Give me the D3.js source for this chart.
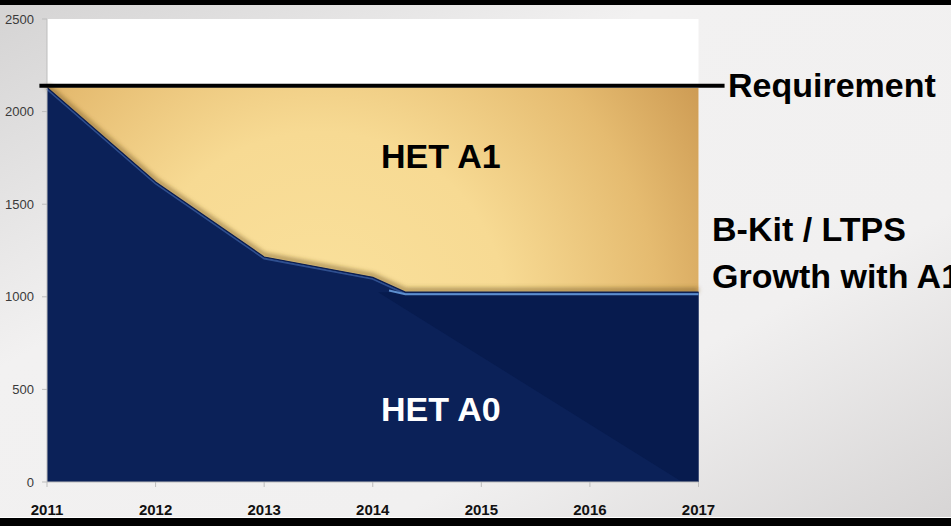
<!DOCTYPE html>
<html>
<head>
<meta charset="utf-8">
<script src="https://cdn.jsdelivr.net/npm/d3@7"></script>
<style>
  body { margin: 0; background: #000; }
  svg { display: block; }
</style>
</head>
<body>
<div id="chart"></div>
<script>
const width = 951;
const height = 526;

// data
const years = [2011, 2012, 2013, 2014, 2014.3, 2015, 2016, 2017];
const hetA0 = [2130, 1620, 1215, 1105, 1025, 1025, 1025, 1025];
const hetA1Top = [2132, 2132, 2132, 2131, 2131, 2130, 2129, 2128];
const requirement = 2140;
const reqSpan = [2010.93, 2017.24];
// darker fading legacy part of A0 (diagonal shade)
const legacyYears = [2014.05, 2016.85];
const legacyVals = [1025, 0];
const yTicks = [0, 500, 1000, 1500, 2000, 2500];
const xTicks = [2011, 2012, 2013, 2014, 2015, 2016, 2017];

const a0 = years.map((d, i) => ({year: d, v0: 0, v1: hetA0[i]}));
const a1 = years.map((d, i) => ({year: d, v0: hetA0[i], v1: hetA1Top[i]}));

const x = d3.scaleLinear().domain([2011, 2017]).range([47, 698.5]);
const y = d3.scaleLinear().domain([0, 2500]).range([482, 19]);

const svg = d3.select("#chart").append("svg").attr("width", width).attr("height", height);
const defs = svg.append("defs");

// background
const bg = defs.append("linearGradient").attr("id", "bg")
  .attr("x1", "0%").attr("y1", "0%").attr("x2", "100%").attr("y2", "100%");
bg.append("stop").attr("offset", "0%").attr("stop-color", "#d4d3d3");
bg.append("stop").attr("offset", "35%").attr("stop-color", "#f2f1f1");
bg.append("stop").attr("offset", "70%").attr("stop-color", "#f1f0f0");
bg.append("stop").attr("offset", "100%").attr("stop-color", "#d6d4d4");

const gold = defs.append("radialGradient").attr("id", "gold")
  .attr("gradientUnits", "userSpaceOnUse")
  .attr("cx", 320).attr("cy", 320).attr("r", 470);
gold.append("stop").attr("offset", "0%").attr("stop-color", "#fae19c");
gold.append("stop").attr("offset", "40%").attr("stop-color", "#f7da93");
gold.append("stop").attr("offset", "72%").attr("stop-color", "#e5bb70");
gold.append("stop").attr("offset", "100%").attr("stop-color", "#c8944d");

const shadow = defs.append("filter").attr("id", "shadow")
  .attr("x", "-5%").attr("y", "-5%").attr("width", "110%").attr("height", "110%");
shadow.append("feGaussianBlur").attr("stdDeviation", 2);

svg.append("rect").attr("width", width).attr("height", height).attr("fill", "url(#bg)");
svg.append("rect").attr("width", width).attr("height", 5).attr("fill", "#000");
svg.append("rect").attr("y", 517).attr("width", width).attr("height", 1).attr("fill", "#fff");
svg.append("rect").attr("y", 518).attr("width", width).attr("height", 8).attr("fill", "#000");

// plot area
svg.append("rect")
  .attr("x", x(2011)).attr("y", y(2500))
  .attr("width", x(2017) - x(2011)).attr("height", y(0) - y(2500))
  .attr("fill", "#fff");

const area = d3.area()
  .x(d => x(d.year))
  .y0(d => y(d.v0))
  .y1(d => y(d.v1));

svg.append("path").datum(a1).attr("d", area).attr("fill", "url(#gold)");

// soft shadow along top of A0
const topLine = d3.line().x(d => x(d.year)).y(d => y(d.v1));
svg.append("path").datum(a0).attr("d", topLine)
  .attr("fill", "none").attr("stroke", "#6b5020").attr("stroke-opacity", 0.5)
  .attr("stroke-width", 5).attr("filter", "url(#shadow)")
  .attr("transform", "translate(0,-2)");

svg.append("path").datum(a0).attr("d", area).attr("fill", "#0b2158");

// darker diagonal shade
const shade = [
  [legacyYears[0], hetA0[hetA0.length - 1]],
  [2017, hetA0[hetA0.length - 1]],
  [2017, 0],
  [legacyYears[1], legacyVals[1]]
];
svg.append("path")
  .attr("d", d3.line().x(d => x(d[0])).y(d => y(d[1]))(shade) + "Z")
  .attr("fill", "#071b4e");

svg.append("path").datum(a0).attr("d", topLine)
  .attr("fill", "none").attr("stroke", "#2f4f8f").attr("stroke-width", 2)
  .attr("transform", "translate(0,1.5)");
svg.append("path").datum(a0).attr("d", topLine)
  .attr("fill", "none").attr("stroke", "#0a1c4e").attr("stroke-width", 1.2);

// light blue highlight on the flat part
const flat = a0.filter(d => d.year >= 2014.3);
svg.append("path")
  .datum([{year: 2014.15, v1: 1045}].concat(flat))
  .attr("d", topLine)
  .attr("fill", "none").attr("stroke", "#5d8fcf").attr("stroke-width", 2)
  .attr("transform", "translate(0,2)");

// axes
const axisColor = "#bdbdbd";
svg.append("line")
  .attr("x1", x(2011)).attr("x2", x(2011))
  .attr("y1", y(2500)).attr("y2", y(0))
  .attr("stroke", axisColor);
svg.selectAll("line.ytick").data(yTicks).join("line")
  .attr("class", "ytick")
  .attr("x1", x(2011) - 5).attr("x2", x(2011))
  .attr("y1", d => y(d)).attr("y2", d => y(d))
  .attr("stroke", axisColor);
svg.selectAll("text.ylab").data(yTicks).join("text")
  .attr("class", "ylab")
  .attr("x", 34).attr("y", d => y(d)).attr("dy", "0.35em")
  .attr("text-anchor", "end")
  .style("font-family", "Liberation Sans, Arial, sans-serif")
  .style("font-size", "13px").style("fill", "#3a3a3a")
  .text(d => d);

svg.append("line")
  .attr("x1", x(2011)).attr("x2", x(2017))
  .attr("y1", y(0)).attr("y2", y(0))
  .attr("stroke", axisColor);
svg.selectAll("line.xtick").data(xTicks).join("line")
  .attr("class", "xtick")
  .attr("x1", d => x(d)).attr("x2", d => x(d))
  .attr("y1", y(0)).attr("y2", y(0) + 5)
  .attr("stroke", axisColor);
svg.selectAll("text.xlab").data(xTicks).join("text")
  .attr("class", "xlab")
  .attr("x", d => x(d)).attr("y", 515)
  .attr("text-anchor", "middle")
  .style("font-family", "Liberation Sans, Arial, sans-serif")
  .style("font-weight", "bold")
  .style("font-size", "15px").style("fill", "#111")
  .text(d => d);

// requirement line
svg.append("line")
  .attr("x1", x(reqSpan[0])).attr("x2", x(reqSpan[1]))
  .attr("y1", y(requirement)).attr("y2", y(requirement))
  .attr("stroke", "#000").attr("stroke-width", 4);

// labels
const labels = [
  {text: "HET A1", x: 381, y: 168, fill: "#000"},
  {text: "HET A0", x: 381, y: 421, fill: "#fff"},
  {text: "Requirement", x: 728, y: 97, fill: "#000"},
  {text: "B-Kit / LTPS", x: 712, y: 241, fill: "#000"},
  {text: "Growth with A1", x: 712, y: 288, fill: "#000"}
];
svg.selectAll("text.lab").data(labels).join("text")
  .attr("class", "lab")
  .attr("x", d => d.x).attr("y", d => d.y)
  .style("font-family", "Liberation Sans, Arial, sans-serif")
  .style("font-weight", "bold")
  .style("font-size", "34px")
  .style("fill", d => d.fill)
  .text(d => d.text);
</script>
</body>
</html>
